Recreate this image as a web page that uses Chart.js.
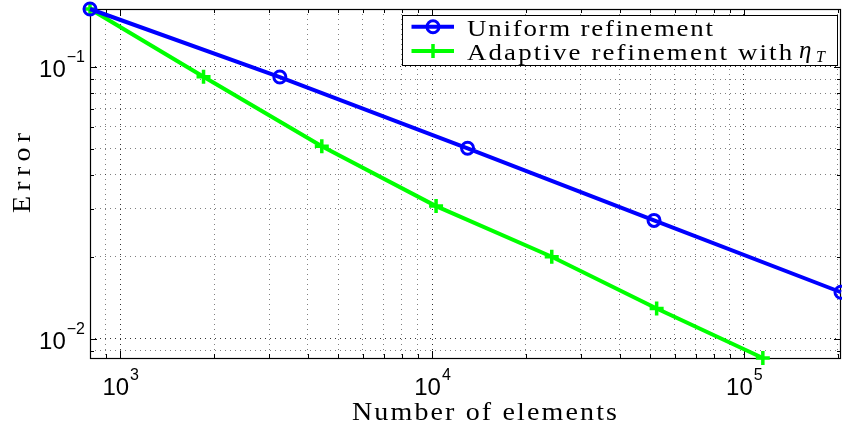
<!DOCTYPE html>
<html><head><meta charset="utf-8">
<script src="https://cdn.jsdelivr.net/npm/chart.js@4/dist/chart.umd.min.js"></script>
<style>html,body{margin:0;padding:0;background:#fff;overflow:hidden}#wrap{width:842px;height:427px;position:relative}</style>
</head><body><div id="wrap"><canvas id="c" width="842" height="427"></canvas></div>
<script>
// ---- data ----
const uniformElements = [800, 3250, 13000, 51500, 204800];
const uniformError    = [0.163, 0.0916, 0.0501, 0.0272, 0.0148];
const adaptiveElements = [800, 1850, 4430, 10300, 24200, 52500, 115000];
const adaptiveError    = [0.163, 0.0918, 0.0510, 0.0307, 0.0200, 0.0129, 0.00848];
const seriesLabels = ['Uniform refinement', 'Adaptive refinement with'];
const legendSymbol = '\u03B7';
const legendSubscript = 'T';
const xTickValues = [1e3, 1e4, 1e5];
const xTickExponents = ['3', '4', '5'];
const yTickValues = [1e-2, 1e-1];
const yTickExponents = ['\u22122', '\u22121'];
const xAxisTitle = 'Number of elements';
const yAxisTitle = 'Error';
const X_MIN = 800, X_MAX = 204800, Y_MIN = 0.00848, Y_MAX = 0.163;

function gridValues(min, max) {
  const out = [];
  for (let e = Math.floor(Math.log10(min)); e <= Math.ceil(Math.log10(max)); e++) {
    for (let d = 1; d <= 9; d++) {
      const v = d * Math.pow(10, e);
      if (v >= min * 0.9999 && v <= max * 1.0001) out.push(v);
    }
  }
  return out;
}
const isMajor = v => Math.abs(Math.log10(v) - Math.round(Math.log10(v))) < 1e-9;

// draw text widened to a target width: part horizontal stretch, part letter spacing
function spacedText(ctx, text, x, y, target) {
  ctx.letterSpacing = '0px';
  const w = ctx.measureText(text).width;
  let s = Math.min(1.12, Math.max(1, target / w));
  const n = Math.max(1, text.length - 1);
  const sp = (target - w * s) / n / s;
  ctx.save();
  ctx.translate(x, y);
  ctx.scale(s, 1);
  ctx.letterSpacing = sp.toFixed(2) + 'px';
  ctx.fillText(text, 0, 0);
  ctx.restore();
  ctx.letterSpacing = '0px';
}

const decor = {
  id: 'decor',
  beforeDatasetsDraw(chart) {
    const {ctx, chartArea: a, scales: {x, y}} = chart;
    ctx.save();
    ctx.strokeStyle = '#000';
    ctx.lineWidth = 1;
    ctx.beginPath();
    gridValues(X_MIN, X_MAX).forEach(v => {
      const px = Math.round(x.getPixelForValue(v)) + 0.5;
      const L = isMajor(v) ? 7 : 4;
      ctx.moveTo(px, a.bottom); ctx.lineTo(px, a.bottom - L);
      ctx.moveTo(px, a.top); ctx.lineTo(px, a.top + L);
    });
    gridValues(Y_MIN, Y_MAX).forEach(v => {
      const py = Math.round(y.getPixelForValue(v)) + 0.5;
      const L = isMajor(v) ? 7 : 4;
      ctx.moveTo(a.left, py); ctx.lineTo(a.left + L, py);
      ctx.moveTo(a.right, py); ctx.lineTo(a.right - L, py);
    });
    ctx.stroke();
    ctx.lineWidth = 1.2;
    ctx.strokeRect(a.left + 0.5, a.top + 0.5, a.right - a.left - 1, a.bottom - a.top);
    ctx.restore();
  },
  afterDatasetsDraw(chart) {
    const {ctx, chartArea: a, scales: {x, y}} = chart;
    ctx.save();
    ctx.fillStyle = '#000';
    ctx.textAlign = 'left';
    ctx.textBaseline = 'alphabetic';
    // x tick labels
    xTickValues.forEach((v, i) => {
      const px = x.getPixelForValue(v);
      ctx.font = '24px "Liberation Sans", Arial, sans-serif';
      const w1 = ctx.measureText('10').width;
      ctx.font = '16px "Liberation Sans", Arial, sans-serif';
      const w2 = ctx.measureText(xTickExponents[i]).width;
      const sx = px - (w1 + w2) / 2;
      ctx.font = '24px "Liberation Sans", Arial, sans-serif';
      ctx.fillText('10', sx, a.bottom + 37);
      ctx.font = '16px "Liberation Sans", Arial, sans-serif';
      ctx.fillText(xTickExponents[i], sx + w1 + 1, a.bottom + 22);
    });
    // y tick labels
    yTickValues.forEach((v, i) => {
      const py = y.getPixelForValue(v);
      ctx.font = '16px "Liberation Sans", Arial, sans-serif';
      const w2 = ctx.measureText(yTickExponents[i]).width;
      ctx.font = '24px "Liberation Sans", Arial, sans-serif';
      const w1 = ctx.measureText('10').width;
      const right = a.left - 5;
      ctx.fillText('10', right - w2 - w1 - 1, py + 10.5);
      ctx.font = '16px "Liberation Sans", Arial, sans-serif';
      ctx.fillText(yTickExponents[i], right - w2, py - 4.5);
    });
    // axis titles
    ctx.font = '25px "Liberation Serif", "Times New Roman", serif';
    spacedText(ctx, xAxisTitle, 352, 420, 265);
    ctx.save();
    ctx.translate(30, 213);
    ctx.rotate(-Math.PI / 2);
    spacedText(ctx, yAxisTitle, 0, 0, 80);
    ctx.restore();

    // legend
    const bx = 402.5, by = 15.5, bw = 435, bh = 50;
    ctx.fillStyle = '#fff';
    ctx.fillRect(bx, by, bw, bh);
    ctx.strokeStyle = '#000';
    ctx.lineWidth = 1;
    ctx.strokeRect(bx, by, bw, bh);
    const rows = [26.7, 51];
    const ds = chart.data.datasets;
    ds.forEach((d, i) => {
      const ry = rows[i];
      ctx.strokeStyle = d.borderColor;
      ctx.lineWidth = 4;
      ctx.beginPath(); ctx.moveTo(411.5, ry); ctx.lineTo(454, ry); ctx.stroke();
      ctx.lineWidth = 3;
      if (d.pointStyle === 'circle') {
        ctx.beginPath(); ctx.arc(433, ry, 6, 0, Math.PI * 2); ctx.stroke();
      } else {
        ctx.lineWidth = 3.5;
        ctx.beginPath(); ctx.moveTo(426, ry); ctx.lineTo(440, ry); ctx.moveTo(433, ry - 7); ctx.lineTo(433, ry + 7); ctx.stroke();
      }
    });
    ctx.fillStyle = '#000';
    ctx.font = '24px "Liberation Serif", "Times New Roman", serif';
    spacedText(ctx, ds[0].label, 467, 36, 246);
    spacedText(ctx, ds[1].label, 467, 60, 325);
    ctx.font = 'italic 25px "Liberation Serif", "Times New Roman", serif';
    ctx.fillText(legendSymbol, 799, 58);
    ctx.font = 'italic 16px "Liberation Serif", "Times New Roman", serif';
    ctx.fillText(legendSubscript, 816, 62);
    ctx.restore();
  }
};

const gridColor = c => (c.tick && isMajor(c.tick.value)) ? 'rgba(0,0,0,0.8)' : 'rgba(0,0,0,0.5)';

new Chart(document.getElementById('c').getContext('2d'), {
  type: 'line',
  data: {
    datasets: [
      {
        label: seriesLabels[0],
        data: uniformElements.map((v, i) => ({x: v, y: uniformError[i]})),
        borderColor: '#0000ff', backgroundColor: 'rgba(0,0,0,0)',
        borderWidth: 4, tension: 0, clip: false,
        pointStyle: 'circle', pointRadius: 6, pointBorderWidth: 3,
        pointBorderColor: '#0000ff', pointBackgroundColor: 'rgba(0,0,0,0)'
      },
      {
        label: seriesLabels[1],
        data: adaptiveElements.map((v, i) => ({x: v, y: adaptiveError[i]})),
        borderColor: '#00ff00', backgroundColor: 'rgba(0,0,0,0)',
        borderWidth: 4, tension: 0, clip: false,
        pointStyle: 'cross', pointRadius: 7, pointBorderWidth: 3.5,
        pointBorderColor: '#00ff00', pointBackgroundColor: 'rgba(0,0,0,0)'
      }
    ]
  },
  options: {
    responsive: false, animation: false, events: [],
    layout: {autoPadding: false, padding: {left: 90, right: 1, top: 9, bottom: 69}},
    plugins: {legend: {display: false}, tooltip: {enabled: false}},
    scales: {
      x: {
        type: 'logarithmic', min: X_MIN, max: X_MAX,
        afterBuildTicks: s => { s.ticks = gridValues(X_MIN, X_MAX).map(v => ({value: v})); },
        ticks: {display: false, autoSkip: false},
        grid: {color: gridColor, lineWidth: 1, drawTicks: false},
        border: {display: false, dash: [1, 4]}
      },
      y: {
        type: 'logarithmic', min: Y_MIN, max: Y_MAX,
        afterBuildTicks: s => { s.ticks = gridValues(Y_MIN, Y_MAX).map(v => ({value: v})); },
        ticks: {display: false, autoSkip: false},
        grid: {color: gridColor, lineWidth: 1, drawTicks: false},
        border: {display: false, dash: [1, 4]}
      }
    }
  },
  plugins: [decor]
});
</script></body></html>
